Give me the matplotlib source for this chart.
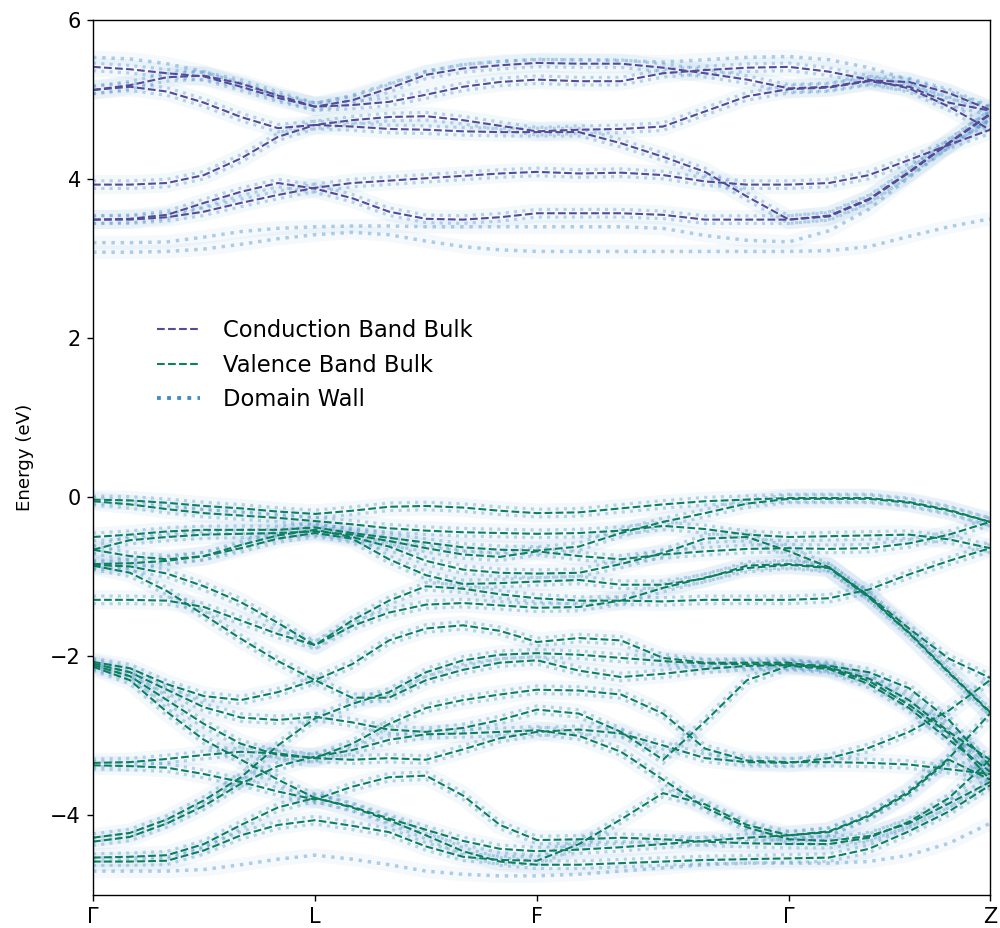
import matplotlib
matplotlib.use("Agg")
import matplotlib.pyplot as plt
from matplotlib.lines import Line2D
from matplotlib.transforms import offset_copy

# k-path (fraction of total path length) and high-symmetry points
kpts = [0.0, 0.0412, 0.0825, 0.1237, 0.1650, 0.2062, 0.2475,
        0.2887, 0.3300, 0.3712, 0.4125, 0.4537, 0.4950,
        0.5418, 0.5886, 0.6355, 0.6823, 0.7291, 0.7759,
        0.8205, 0.8651, 0.9097, 0.9543, 1.0]
kticks = [0.0, 0.2475, 0.4950, 0.7759, 1.0]
klabels = ["Γ", "L", "F", "Γ", "Z"]

# conduction band (bulk), eV
cb1 = [5.41, 5.38, 5.33, 5.29, 5.16, 5.02, 4.91, 4.99, 5.14, 5.31, 5.39, 5.43, 5.46,
       5.45, 5.45, 5.40, 5.33, 5.25, 5.14, 5.16, 5.24, 5.22, 5.08, 4.87]
cb2 = [5.12, 5.18, 5.28, 5.30, 5.20, 5.05, 4.91, 4.93, 4.97, 5.06, 5.16, 5.22, 5.25,
       5.23, 5.23, 5.33, 5.37, 5.40, 5.41, 5.35, 5.25, 5.14, 4.91, 4.62]
cb3 = [5.12, 5.16, 5.10, 4.96, 4.78, 4.64, 4.68, 4.74, 4.78, 4.79, 4.74, 4.67, 4.60,
       4.62, 4.63, 4.66, 4.85, 5.04, 5.13, 5.15, 5.23, 5.16, 4.96, 4.86]
cb4 = [3.93, 3.93, 3.95, 4.05, 4.26, 4.53, 4.68, 4.66, 4.63, 4.62, 4.60, 4.59, 4.59,
       4.59, 4.45, 4.28, 4.09, 3.78, 3.49, 3.53, 3.74, 4.08, 4.45, 4.81]
cb5 = [3.49, 3.50, 3.55, 3.70, 3.84, 3.95, 3.88, 3.76, 3.59, 3.50, 3.49, 3.52, 3.57,
       3.57, 3.57, 3.55, 3.49, 3.49, 3.49, 3.54, 3.75, 4.09, 4.46, 4.82]
cb6 = [3.49, 3.49, 3.52, 3.59, 3.70, 3.80, 3.89, 3.95, 3.98, 4.01, 4.04, 4.07, 4.09,
       4.07, 4.08, 4.05, 3.97, 3.93, 3.93, 3.95, 4.05, 4.24, 4.43, 4.62]

# valence band (bulk), eV
vb1 = [-0.03, -0.04, -0.07, -0.11, -0.14, -0.18, -0.21, -0.17, -0.12, -0.11, -0.13, -0.17, -0.20,
       -0.19, -0.14, -0.09, -0.05, -0.03, -0.01, -0.01, -0.01, -0.06, -0.16, -0.31]
vb2 = [-0.05, -0.09, -0.15, -0.20, -0.23, -0.26, -0.30, -0.34, -0.39, -0.42, -0.44, -0.45, -0.46,
       -0.45, -0.42, -0.36, -0.40, -0.47, -0.50, -0.49, -0.48, -0.47, -0.53, -0.64]
vb3 = [-0.50, -0.47, -0.43, -0.41, -0.41, -0.41, -0.38, -0.45, -0.51, -0.57, -0.63, -0.66, -0.67,
       -0.62, -0.45, -0.31, -0.20, -0.08, -0.02, -0.02, -0.02, -0.07, -0.17, -0.31]
vb4 = [-0.66, -0.54, -0.50, -0.47, -0.46, -0.45, -0.43, -0.47, -0.55, -0.64, -0.72, -0.75, -0.68,
       -0.74, -0.78, -0.72, -0.68, -0.65, -0.64, -0.65, -0.64, -0.58, -0.47, -0.31]
vb5 = [-0.66, -0.74, -0.78, -0.74, -0.60, -0.48, -0.41, -0.50, -0.62, -0.80, -0.91, -0.95, -0.96,
       -0.95, -0.84, -0.70, -0.52, -0.50, -0.68, -0.88, -1.24, -1.65, -2.03, -2.27]
vb6 = [-0.84, -0.83, -0.80, -0.74, -0.64, -0.52, -0.45, -0.52, -0.78, -0.98, -1.09, -1.08, -1.06,
       -1.04, -1.10, -1.10, -1.02, -0.86, -0.84, -0.88, -1.25, -1.70, -2.20, -2.70]
vb7 = [-0.85, -0.87, -0.96, -1.12, -1.32, -1.58, -1.86, -1.55, -1.30, -1.12, -1.15, -1.22, -1.27,
       -1.30, -1.30, -1.31, -1.29, -1.29, -1.29, -1.27, -1.16, -0.97, -0.80, -0.64]
vb8 = [-1.29, -1.29, -1.30, -1.38, -1.55, -1.72, -1.86, -1.62, -1.45, -1.35, -1.33, -1.36, -1.39,
       -1.38, -1.30, -1.14, -1.01, -0.89, -0.85, -0.89, -1.26, -1.71, -2.21, -2.71]
vb9 = [-0.86, -0.95, -1.18, -1.48, -1.78, -2.06, -2.30, -2.10, -1.80, -1.65, -1.61, -1.68, -1.82,
       -1.77, -1.80, -2.02, -2.08, -2.08, -2.08, -2.15, -2.31, -2.61, -2.97, -3.55]
vb10 = [-2.07, -2.15, -2.35, -2.50, -2.55, -2.45, -2.30, -2.52, -2.52, -2.30, -2.17, -2.08, -2.05,
        -2.18, -2.26, -2.22, -2.16, -2.12, -2.11, -2.14, -2.28, -2.55, -2.95, -3.30]
vb11 = [-2.09, -2.20, -2.42, -2.64, -2.77, -2.80, -2.76, -2.83, -2.92, -2.95, -2.90, -2.80, -2.67,
        -2.72, -2.95, -3.30, -2.82, -2.30, -2.12, -2.16, -2.35, -2.65, -3.05, -3.45]
vb12 = [-2.11, -2.25, -2.55, -2.85, -3.10, -3.24, -3.28, -3.30, -3.28, -3.30, -3.17, -3.03, -2.95,
        -2.92, -2.97, -3.12, -3.28, -3.33, -3.34, -3.28, -3.15, -2.95, -2.68, -2.30]
vb13 = [-2.13, -2.30, -2.70, -3.05, -3.30, -3.55, -3.78, -3.90, -4.06, -4.25, -4.45, -4.58, -4.62,
        -4.62, -4.60, -4.58, -4.56, -4.55, -4.54, -4.53, -4.42, -4.20, -3.95, -3.62]
vb14 = [-3.34, -3.33, -3.29, -3.24, -3.20, -3.22, -3.28, -3.10, -2.85, -2.65, -2.55, -2.48, -2.42,
        -2.43, -2.48, -2.72, -3.16, -3.31, -3.33, -3.33, -3.34, -3.36, -3.42, -3.48]
vb15 = [-3.37, -3.38, -3.40, -3.48, -3.58, -3.70, -3.80, -3.64, -3.52, -3.50, -3.75, -4.12, -4.31,
        -4.30, -4.28, -4.30, -4.33, -4.35, -4.36, -4.36, -4.28, -4.08, -3.78, -3.30]
vb16 = [-4.28, -4.22, -4.05, -3.81, -3.52, -3.12, -2.78, -2.60, -2.45, -2.20, -2.05, -1.98, -1.96,
        -1.98, -2.02, -2.06, -2.09, -2.10, -2.10, -2.12, -2.20, -2.40, -2.80, -3.38]
vb17 = [-4.58, -4.58, -4.57, -4.44, -4.25, -4.12, -4.06, -4.13, -4.21, -4.39, -4.52, -4.56, -4.57,
        -4.36, -4.05, -3.72, -3.86, -4.12, -4.25, -4.20, -4.00, -3.70, -3.28, -2.72]
vb18 = [-4.53, -4.52, -4.50, -4.36, -4.12, -3.90, -3.78, -3.89, -4.04, -4.18, -4.32, -4.42, -4.45,
        -4.43, -4.40, -4.36, -4.32, -4.28, -4.25, -4.21, -4.01, -3.72, -3.30, -3.55]
vb19 = [-4.33, -4.27, -4.10, -3.88, -3.60, -3.38, -3.26, -3.18, -3.05, -2.98, -2.97, -2.95, -2.93,
        -3.00, -3.20, -3.55, -3.90, -4.15, -4.30, -4.32, -4.26, -4.10, -3.85, -3.58]

# extra domain-wall states (not on top of bulk lines)
dw1 = [5.53, 5.51, 5.45, 5.35, 5.20, 5.05, 4.95, 5.05, 5.20, 5.35, 5.44, 5.48, 5.50,
       5.50, 5.49, 5.47, 5.50, 5.53, 5.54, 5.50, 5.40, 5.25, 5.10, 4.90]
dw2 = [3.20, 3.20, 3.21, 3.27, 3.34, 3.38, 3.40, 3.41, 3.41, 3.40, 3.40, 3.40, 3.40,
       3.40, 3.40, 3.38, 3.29, 3.23, 3.21, 3.35, 3.62, 4.02, 4.40, 4.75]
dw3 = [3.08, 3.08, 3.09, 3.12, 3.18, 3.25, 3.30, 3.33, 3.30, 3.22, 3.15, 3.11, 3.09,
       3.09, 3.09, 3.09, 3.09, 3.09, 3.09, 3.10, 3.15, 3.28, 3.40, 3.50]
dw4 = [-4.70, -4.70, -4.70, -4.68, -4.62, -4.55, -4.50, -4.55, -4.62, -4.70, -4.74, -4.76, -4.76,
       -4.74, -4.70, -4.66, -4.62, -4.60, -4.60, -4.60, -4.58, -4.50, -4.35, -4.10]

cond_bands = [cb1, cb2, cb3, cb4, cb5, cb6]
val_bands = [vb1, vb2, vb3, vb4, vb5, vb6, vb7, vb8, vb9, vb10,
             vb11, vb12, vb13, vb14, vb15, vb16, vb17, vb18, vb19]
dw_bands = [dw1, dw2, dw3, dw4]

c_cond = "#55499a"
c_val = "#0b7f5e"
c_dw = "#3f8ac5"

fig = plt.figure(figsize=(8, 7.424), dpi=125)
ax = fig.add_axes([0.093, 0.0356, 0.897, 0.9429])

# domain wall: faint haze plus dotted rows either side of the bulk lines
up = offset_copy(ax.transData, fig=fig, x=0, y=2.2, units="points")
down = offset_copy(ax.transData, fig=fig, x=0, y=-2.2, units="points")
for b in cond_bands + val_bands:
    ax.plot(kpts, b, ls="-", lw=11, color=c_dw, alpha=0.06, solid_capstyle="butt")
    ax.plot(kpts, b, ls=":", lw=1.8, color=c_dw, alpha=0.35, transform=up)
    ax.plot(kpts, b, ls=":", lw=1.8, color=c_dw, alpha=0.35, transform=down)
for b in dw_bands:
    ax.plot(kpts, b, ls="-", lw=8, color=c_dw, alpha=0.05, solid_capstyle="butt")
    ax.plot(kpts, b, ls=":", lw=2.0, color=c_dw, alpha=0.4)

for b in cond_bands:
    ax.plot(kpts, b, ls="--", lw=1.2, color=c_cond)
for b in val_bands:
    ax.plot(kpts, b, ls="--", lw=1.2, color=c_val)

ax.set_xlim(0, 1)
ax.set_ylim(-5, 6)
ax.set_xticks(kticks)
ax.set_xticklabels(klabels)
ax.set_yticks([-4, -2, 0, 2, 4, 6])
ax.tick_params(labelsize=12)
ax.set_ylabel("Energy (eV)", fontsize=10.5, labelpad=9)

handles = [Line2D([], [], ls="--", lw=1.2, color=c_cond),
           Line2D([], [], ls="--", lw=1.2, color=c_val),
           Line2D([], [], ls=":", lw=2.2, color=c_dw)]
ax.legend(handles, ["Conduction Band Bulk", "Valence Band Bulk", "Domain Wall"],
          loc="upper left", bbox_to_anchor=(0.049, 0.681), frameon=False,
          fontsize=13, handlelength=1.9, handletextpad=1.0)

fig.savefig("out.png")
